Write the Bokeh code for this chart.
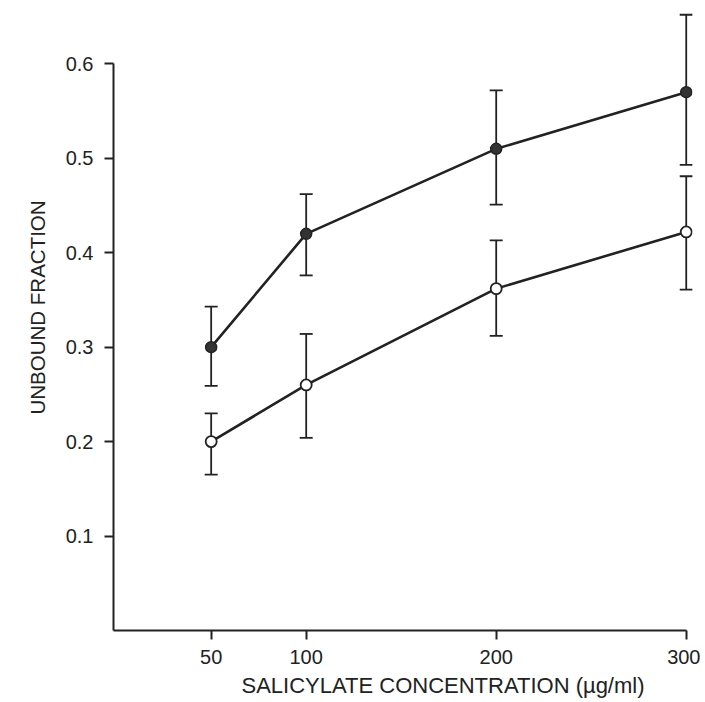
from bokeh.plotting import figure
from bokeh.models import Range1d, FixedTicker, Whisker, ColumnDataSource, Title
from bokeh.embed import file_html
from bokeh.resources import INLINE

# Data
conc = [50, 100, 200, 300]
filled_mean = [0.30, 0.42, 0.51, 0.57]
filled_upper = [0.343, 0.462, 0.572, 0.652]
filled_lower = [0.259, 0.376, 0.451, 0.493]
open_mean = [0.20, 0.26, 0.362, 0.422]
open_upper = [0.23, 0.314, 0.413, 0.481]
open_lower = [0.165, 0.204, 0.312, 0.361]
x_ticks = [50, 100, 200, 300]
y_ticks = [0.1, 0.2, 0.3, 0.4, 0.5, 0.6]

FONT = "Liberation Sans"
INK = "#222222"

p = figure(width=700, height=702, output_backend="svg", toolbar_location=None,
           x_range=Range1d(-1.4, 303.3), y_range=Range1d(0.0, 0.6565),
           min_border_left=113, min_border_right=8, min_border_top=10, min_border_bottom=71)
p.grid.visible = False
p.outline_line_color = None
p.background_fill_color = "white"
p.border_fill_color = "white"

for ax in (p.xaxis[0], p.yaxis[0]):
    ax.axis_line_width = 2
    ax.axis_line_color = INK
    ax.major_tick_line_width = 2
    ax.major_tick_line_color = INK
    ax.major_tick_out = 9
    ax.major_tick_in = 0
    ax.minor_tick_out = 0
    ax.minor_tick_in = 0
    ax.major_label_text_font = FONT
    ax.major_label_text_font_size = "20px"
    ax.major_label_text_color = INK

p.xaxis.ticker = FixedTicker(ticks=x_ticks)
p.yaxis.ticker = FixedTicker(ticks=y_ticks)
p.xaxis.bounds = (-1.4, 300)
p.yaxis.bounds = (0.0, 0.6)
p.xaxis.major_label_standoff = 10
p.yaxis.major_label_standoff = 11

yt = Title(text="UNBOUND FRACTION", align="left", offset=216,
           text_font=FONT, text_font_size="20.5px", text_font_style="normal",
           text_color=INK, standoff=28)
p.add_layout(yt, "left")

xt = Title(text="SALICYLATE CONCENTRATION (µg/ml)", align="left", offset=128,
           text_font=FONT, text_font_size="22px", text_font_style="normal",
           text_color=INK, standoff=9)
p.add_layout(xt, "below")

for up, lo in ((filled_upper, filled_lower), (open_upper, open_lower)):
    src = ColumnDataSource(dict(x=conc, upper=up, lower=lo))
    w = Whisker(source=src, base="x", upper="upper", lower="lower",
                line_color=INK, line_width=1.8)
    for head in (w.upper_head, w.lower_head):
        head.size = 13
        head.line_width = 1.8
        head.line_color = INK
    p.add_layout(w)

p.line(conc, filled_mean, line_color=INK, line_width=2.6)
p.line(conc, open_mean, line_color=INK, line_width=2.6)
p.scatter(conc, filled_mean, size=11, fill_color="#333333", line_color=INK, line_width=1.5)
p.scatter(conc, open_mean, size=11, fill_color="white", line_color=INK, line_width=1.8)

open("out.html", "w").write(file_html(p, INLINE))
